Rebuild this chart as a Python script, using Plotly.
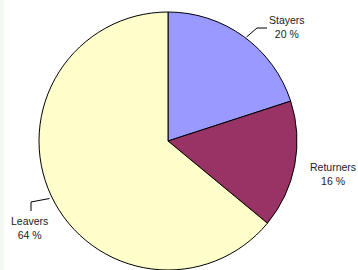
import plotly.graph_objects as go

categories = ["Stayers", "Returners", "Leavers"]
values = [20, 16, 64]
colors = ["#9999FF", "#993366", "#FFFFCC"]
pct_labels = ["20 %", "16 %", "64 %"]

W, H = 358, 270

def px(x):
    return x / W

def py(y):
    return 1 - y / H

R = 129
CX, CY = 168, 141

fig = go.Figure()
fig.add_trace(go.Pie(
    labels=categories,
    values=values,
    sort=False,
    direction="clockwise",
    rotation=0,
    marker=dict(colors=colors, line=dict(color="#000000", width=1)),
    textinfo="none",
    hoverinfo="label+percent",
    showlegend=False,
    domain=dict(x=[px(CX - R), px(CX + R)], y=[max(0, py(CY + R)), py(CY - R)]),
))

label_pos = [(287, 27), (333, 173.5), (30, 228)]
annotations = []
for cat, pct, (x, y) in zip(categories, pct_labels, label_pos):
    annotations.append(dict(
        x=px(x), y=py(y), xref="paper", yref="paper",
        text=f"{cat}<br>{pct}", showarrow=False,
        font=dict(family="Liberation Sans, Arial, sans-serif", size=10.5, color="#222222"),
        align="center", xanchor="center", yanchor="middle",
    ))

leaders = [
    [(246.5, 37), (257, 28), (267, 28)],
    [(49.5, 198.5), (31, 202), (31, 211)],
]
shapes = [dict(type="rect", xref="paper", yref="paper", x0=0, x1=px(4), y0=0, y1=1,
               fillcolor="#F2F8F2", line=dict(width=0), layer="below")]
for pts in leaders:
    path = "M " + " L ".join(f"{px(a)},{py(b)}" for a, b in pts)
    shapes.append(dict(type="path", xref="paper", yref="paper", path=path,
                       line=dict(color="#000000", width=1)))

fig.update_layout(
    width=W, height=H,
    margin=dict(l=0, r=0, t=0, b=0),
    paper_bgcolor="#FFFFFF",
    plot_bgcolor="#FFFFFF",
    annotations=annotations,
    shapes=shapes,
)

fig.write_html("out.html",
               config={"displayModeBar": False},
               post_script="document.body.style.margin='0';document.body.style.overflow='hidden';")
